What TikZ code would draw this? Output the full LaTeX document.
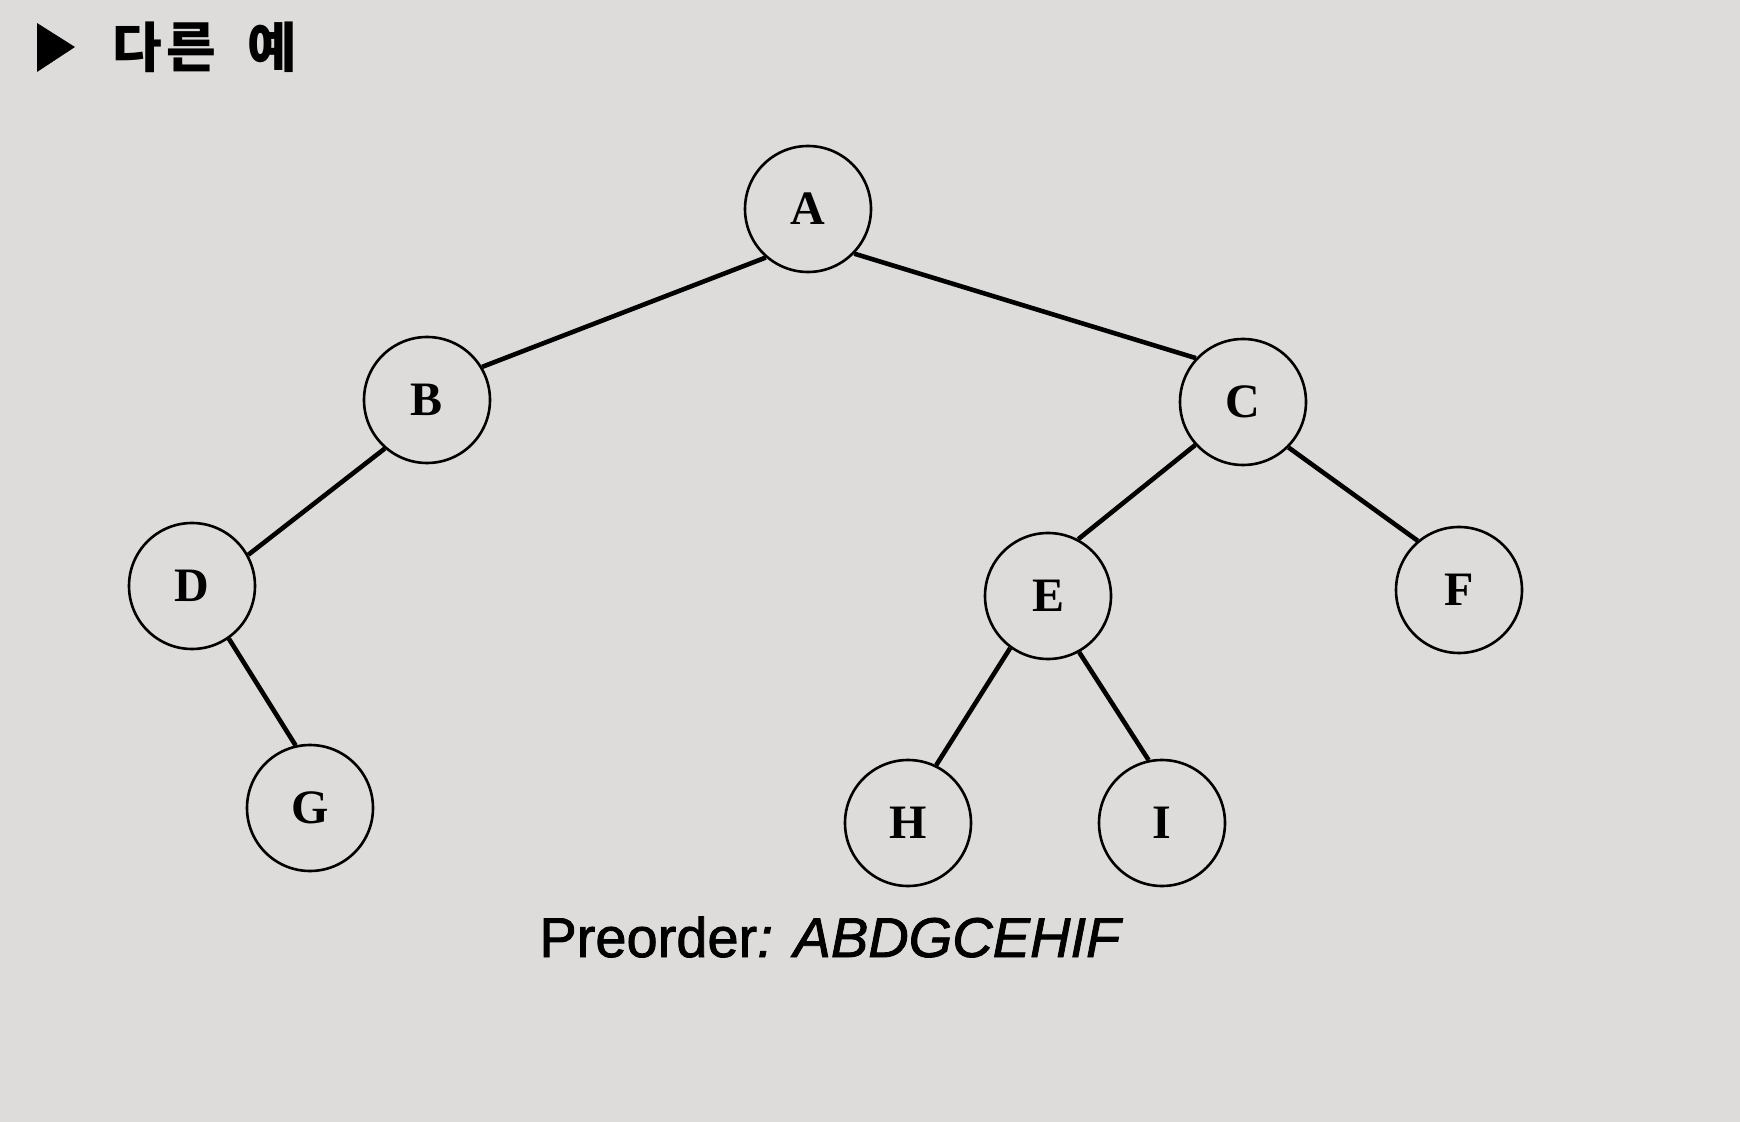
\documentclass[tikz,border=0pt]{standalone}
\usepackage{fontspec}
\setmainfont{Liberation Serif}
\newfontfamily\krfont{Noto Sans CJK KR}
\newfontfamily\orderfont[FakeBold=1.5]{Liberation Sans}
\definecolor{slidebg}{RGB}{221,220,218}
\tikzstyle{vertex} = [circle, draw, line width=1.3pt, minimum size=63pt,
    inner sep=0pt, font=\fontsize{24}{24}\selectfont\bfseries]
\tikzstyle{edge} = [draw, line width=2.3pt]
\tikzstyle{caption} = [anchor=base west, inner sep=0pt,
    font=\orderfont\fontsize{28}{28}\selectfont]

\begin{document}
\begin{tikzpicture}[x=0.5pt, y=-0.5pt]
    \fill [slidebg] (0,0) rectangle (1740,1122);
    % Title
    \fill (37,23) -- (37,72) -- (75,47) -- cycle;
    \node [anchor=west, inner sep=0pt, font=\krfont\bfseries\fontsize{27}{27}\selectfont] (title) at (112,47) {다\kern2pt 른\hspace{16pt}예};
    % Place nodes
    \node [vertex] (a) at (808,209) {A};
    \node [vertex] (b) at (427,400) {B};
    \node [vertex] (c) at (1243,402) {C};
    \node [vertex] (d) at (192,586) {D};
    \node [vertex] (e) at (1048,596) {E};
    \node [vertex] (f) at (1459,590) {F};
    \node [vertex] (g) at (310,808) {G};
    \node [vertex] (h) at (908,823) {H};
    \node [vertex] (i) at (1162,823) {I};
    \node [caption] (order) at (539,957) {Preorder\textit{: ABDGCEHIF}};
    % Draw edges
    \path [edge] (a.229) -- (b.31);
    \path [edge] (a.316) -- (c.137);
    \path [edge] (b.229) -- (d.29);
    \path [edge] (d.305) -- (g.103);
    \path [edge] (c.222) -- (e.62);
    \path [edge] (c.315) -- (f.130);
    \path [edge] (e.234) -- (h.64);
    \path [edge] (e.299) -- (i.102);
\end{tikzpicture}
\end{document}
